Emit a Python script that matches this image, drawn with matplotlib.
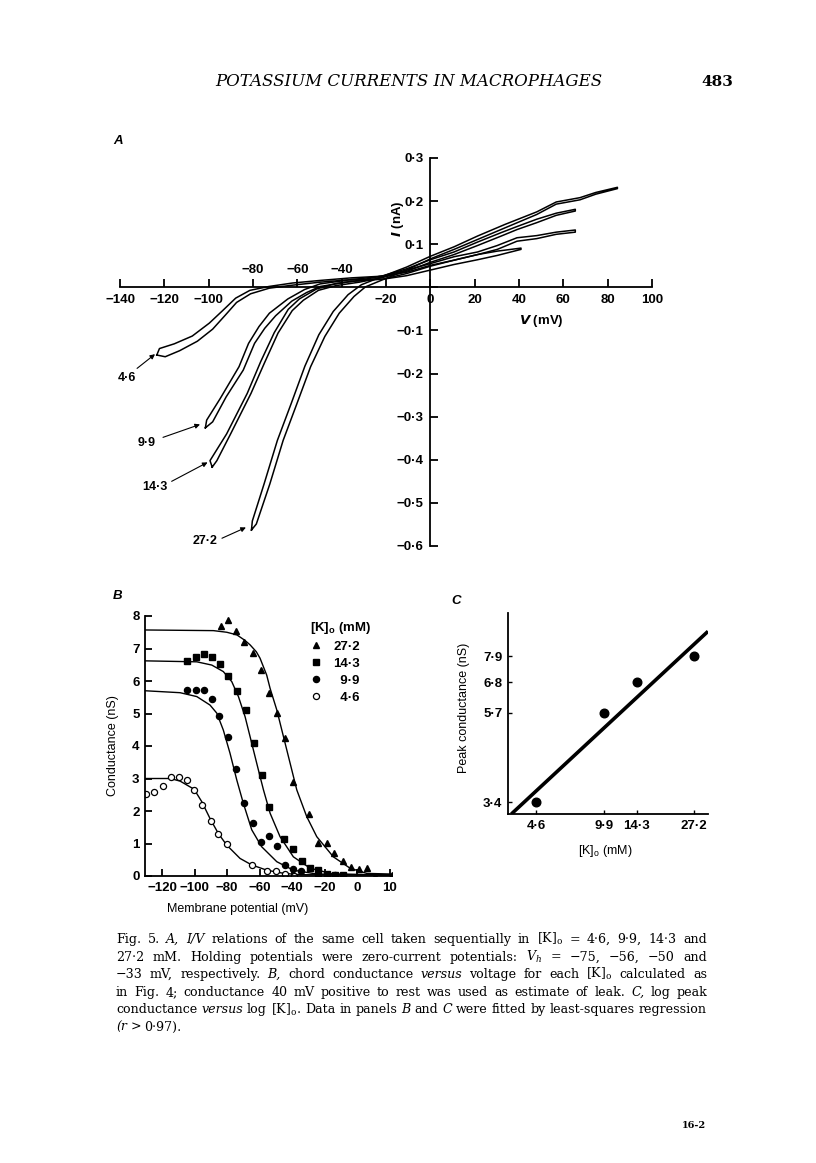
import numpy as np
import matplotlib
matplotlib.use("Agg")
import matplotlib.pyplot as plt

plt.rcParams['font.family'] = ['Liberation Sans', 'DejaVu Sans']
plt.rcParams['font.weight'] = 'bold'
plt.rcParams['axes.linewidth'] = 1.3

# ---- panel A: I/V ramps, outward and return trace of each loop ----
a46_v_out = [-123.4, -119.6, -113.1, -105.1, -98.2, -92.4, -87.4, -81.1, -72.7, -62.2, -49.7, -35.5, -21.3, -10.7, 0, 10.7, 21.3, 30.2, 40.9]
a46_i_out = [-0.157, -0.161, -0.147, -0.125, -0.097, -0.064, -0.035, -0.015, -0.002, 0.005, 0.012, 0.018, 0.019, 0.027, 0.040, 0.053, 0.064, 0.074, 0.088]
a46_v_ret = [40.9, 30.2, 21.3, 10.7, 0, -10.7, -21.3, -35.5, -49.7, -62.2, -72.8, -81.4, -87.8, -93.7, -99.7, -107.4, -115.5, -122.2, -123.4]
a46_i_ret = [0.091, 0.084, 0.076, 0.063, 0.051, 0.035, 0.026, 0.022, 0.016, 0.010, 0.002, -0.007, -0.025, -0.054, -0.083, -0.113, -0.131, -0.142, -0.157]

a99_v_out = [-101.5, -98.2, -92.1, -84.4, -79.3, -74.7, -69.8, -62.5, -55.8, -49.7, -35.5, -21.3, -10.7, 0, 10.7, 21.3, 30.2, 39.1, 48.0, 56.8, 65.4]
a99_i_out = [-0.326, -0.312, -0.254, -0.192, -0.130, -0.095, -0.066, -0.032, -0.012, 0.002, 0.014, 0.019, 0.032, 0.049, 0.063, 0.076, 0.088, 0.107, 0.113, 0.123, 0.128]
a99_v_ret = [65.4, 56.8, 48.0, 39.1, 30.2, 21.3, 10.7, 0, -10.7, -21.3, -35.5, -49.7, -56.7, -64.3, -72.6, -77.3, -82.0, -86.3, -94.8, -100.9, -101.5]
a99_i_ret = [0.133, 0.128, 0.120, 0.115, 0.097, 0.082, 0.071, 0.055, 0.040, 0.026, 0.018, 0.008, -0.005, -0.027, -0.060, -0.091, -0.130, -0.184, -0.258, -0.308, -0.326]

a143_v_out = [-98.4, -96.3, -90.1, -80.9, -74.8, -68.7, -62.3, -57.3, -50.5, -42.6, -32.0, -21.3, -10.7, 0, 10.7, 21.3, 32.0, 39.1, 48.0, 56.8, 65.4]
a143_i_out = [-0.417, -0.402, -0.340, -0.246, -0.175, -0.106, -0.054, -0.030, -0.007, 0.004, 0.012, 0.023, 0.037, 0.058, 0.076, 0.097, 0.119, 0.134, 0.150, 0.167, 0.177]
a143_v_ret = [65.4, 56.8, 48.0, 39.1, 32.0, 21.3, 10.7, 0, -10.7, -21.3, -32.0, -42.6, -51.4, -59.1, -64.1, -70.4, -76.5, -82.6, -91.9, -99.4, -98.4]
a143_i_ret = [0.181, 0.172, 0.158, 0.141, 0.127, 0.105, 0.082, 0.064, 0.043, 0.027, 0.016, 0.009, -0.004, -0.027, -0.051, -0.105, -0.172, -0.246, -0.340, -0.402, -0.417]

a272_v_out = [-80.7, -78.5, -72.4, -66.4, -60.2, -54.0, -47.6, -41.1, -34.4, -29.3, -21.3, -10.7, 0, 10.7, 21.3, 33.7, 48.0, 56.8, 67.5, 74.6, 84.4]
a272_i_out = [-0.563, -0.549, -0.456, -0.355, -0.270, -0.184, -0.114, -0.060, -0.021, 0.001, 0.018, 0.040, 0.066, 0.088, 0.111, 0.138, 0.169, 0.193, 0.203, 0.216, 0.229]
a272_v_ret = [84.4, 74.6, 67.5, 56.8, 48.0, 33.7, 21.3, 10.7, 0, -10.7, -21.3, -31.1, -37.1, -43.8, -50.3, -56.6, -62.8, -69.0, -75.0, -80.3, -80.7]
a272_i_ret = [0.232, 0.220, 0.208, 0.198, 0.175, 0.146, 0.119, 0.094, 0.072, 0.047, 0.026, 0.006, -0.017, -0.056, -0.110, -0.183, -0.270, -0.355, -0.456, -0.542, -0.563]

a_labels = ['4\u00b76', '9\u00b79', '14\u00b73', '27\u00b72']

# ---- panel B: chord conductance (nS) vs membrane potential (mV) ----
b272_v = [-83.9, -79.2, -74.5, -69.5, -64.2, -59.3, -54.2, -49.0, -44.1, -39.2, -29.4, -23.8, -18.3, -14.2, -8.8, -3.9, 1.4, 6.3, 11.1, 21.4]
b272_g = [7.69, 7.88, 7.55, 7.21, 6.87, 6.34, 5.62, 5.03, 4.24, 2.90, 1.90, 1.01, 1.01, 0.72, 0.46, 0.29, 0.21, 0.24, 0.0, 0.03]
b143_v = [-104.4, -99.3, -94.2, -89.2, -84.3, -79.2, -73.7, -68.5, -63.4, -58.6, -54.0, -44.7, -39.6, -34.0, -28.9, -23.8, -18.6, -13.5, -8.4]
b143_g = [6.62, 6.73, 6.83, 6.73, 6.52, 6.15, 5.70, 5.11, 4.10, 3.11, 2.13, 1.14, 0.82, 0.46, 0.26, 0.18, 0.05, 0.03, 0.03]
b99_v = [-104.4, -99.3, -94.2, -89.2, -84.7, -79.2, -74.5, -69.5, -64.2, -59.3, -54.2, -49.0, -44.1, -39.2, -34.3, -23.8, -18.6, -13.5]
b99_g = [5.72, 5.72, 5.72, 5.44, 4.93, 4.27, 3.29, 2.24, 1.62, 1.06, 1.23, 0.92, 0.34, 0.21, 0.16, 0.03, 0.03, 0.03]
b46_v = [-130.0, -124.7, -119.6, -114.6, -109.5, -104.4, -100.3, -95.6, -90.0, -85.4, -80.2, -64.8, -55.2, -49.8, -44.3, -38.8]
b46_g = [2.51, 2.58, 2.77, 3.06, 3.06, 2.95, 2.65, 2.18, 1.70, 1.29, 0.98, 0.34, 0.16, 0.16, 0.05, 0.0]

# fitted curves
f272_v = [-130.5, -88.4, -80.2, -74.0, -69.0, -65.8, -62.0, -59.7, -55.6, -53.5, -49.4, -45.3, -41.2, -37.1, -31.0, -24.8, -14.6, -4.3, 6.0, 21.4]
f272_g = [7.57, 7.55, 7.50, 7.42, 7.25, 7.11, 6.90, 6.70, 6.18, 5.77, 5.11, 4.29, 3.47, 2.65, 1.83, 1.21, 0.59, 0.24, 0.08, 0.06]
f143_v = [-130.5, -98.6, -89.4, -82.3, -77.1, -73.0, -68.9, -64.8, -60.7, -57.6, -53.5, -47.4, -39.2, -28.9, -14.6, 21.4]
f143_g = [6.62, 6.59, 6.49, 6.29, 5.98, 5.52, 4.90, 4.08, 3.26, 2.65, 1.93, 1.21, 0.59, 0.24, 0.06, 0.03]
f99_v = [-130.5, -108.9, -98.6, -90.5, -86.3, -82.3, -78.2, -74.0, -70.0, -64.8, -58.7, -49.4, -39.2, -24.8, 21.4]
f99_g = [5.70, 5.64, 5.52, 5.26, 5.01, 4.49, 3.78, 2.95, 2.24, 1.42, 0.90, 0.44, 0.18, 0.06, 0.03]
f46_v = [-130.5, -115.0, -108.9, -100.3, -95.6, -90.5, -85.4, -80.2, -72.0, -64.8, -55.6, -45.0, -35.0, 21.4]
f46_g = [3.00, 3.00, 2.92, 2.67, 2.29, 1.77, 1.31, 0.95, 0.54, 0.34, 0.18, 0.08, 0.04, 0.03]

b_xticks = [-120, -100, -80, -60, -40, -20, 0, 20]
b_xticklabels = ['\u2212120', '\u2212100', '\u221280', '\u221260', '\u221240', '\u221220', '0', '10']

# ---- panel C: log peak conductance vs log [K]o ----
k_conc = [4.6, 9.9, 14.3, 27.2]
peak_g = [3.4, 5.7, 6.8, 7.9]
fit_k = [3.47, 32.0]
fit_g = [3.18, 9.13]

W, H = 816, 1163
fig = plt.figure(figsize=(W / 100, H / 100), dpi=100)


def rect(x0, y0, x1, y1):
    return [x0 / W, 1 - y1 / H, (x1 - x0) / W, (y1 - y0) / H]


def dot(s):
    return s.replace('-', '\u2212').replace('.', '\u00b7')


# ================= A =================
axA = fig.add_axes(rect(120, 158, 652, 546))
loops = [(a46_v_out + a46_v_ret, a46_i_out + a46_i_ret),
         (a99_v_out + a99_v_ret, a99_i_out + a99_i_ret),
         (a143_v_out + a143_v_ret, a143_i_out + a143_i_ret),
         (a272_v_out + a272_v_ret, a272_i_out + a272_i_ret)]
for v, i in loops:
    axA.plot(v, i, color='black', lw=1.1, solid_joinstyle='round')

axA.set_xlim(-140, 100)
axA.set_ylim(-0.6, 0.3)
axA.spines['left'].set_position(('data', 0))
axA.spines['bottom'].set_position(('data', 0))
axA.spines['top'].set_visible(False)
axA.spines['right'].set_visible(False)
xt = list(range(-140, 101, 20))
axA.set_xticks(xt)
axA.set_xticklabels(['' if v in (-80, -60, -40) else dot(str(v)) for v in xt])
yt = [-0.6, -0.5, -0.4, -0.3, -0.2, -0.1, 0, 0.1, 0.2, 0.3]
axA.set_yticks(yt)
axA.set_yticklabels(['' if v == 0 else dot('%.1f' % v) for v in yt])
axA.tick_params(direction='in', length=6, width=1.3, labelsize=9.5, pad=5)
for v in (-80, -60, -40):
    axA.text(v, 0.04, dot(str(v)), ha='center', va='center', fontsize=9.5)
axA.text(-14.5, 0.16, '$\\it{I}$ (nA)', rotation=90, ha='center', va='center', fontsize=9.5)
axA.text(50, -0.079, '$\\it{V}$ (mV)', ha='center', va='center', fontsize=9.5)

# arrows to the hyperpolarised end of each ramp
arrow_tail = [(-132.3, -0.188), (-120.6, -0.348), (-116.7, -0.450), (-94.0, -0.582)]
arrow_head = [(-124.2, -0.155), (-103.9, -0.318), (-100.5, -0.406), (-83.2, -0.557)]
label_pos = [(-136.8, -0.211), (-127.8, -0.360), (-124.2, -0.464), (-101.7, -0.589)]
for lab, t, h, p in zip(a_labels, arrow_tail, arrow_head, label_pos):
    axA.annotate('', xy=h, xytext=t,
                 arrowprops=dict(arrowstyle='-|>', lw=0.8, color='black', mutation_scale=7,
                                 shrinkA=0, shrinkB=0), annotation_clip=False)
    axA.text(p[0], p[1], lab, ha='center', va='center', fontsize=9, clip_on=False)

# ================= B =================
axB = fig.add_axes(rect(145, 616, 392, 876))
for fv, fg in [(f272_v, f272_g), (f143_v, f143_g), (f99_v, f99_g), (f46_v, f46_g)]:
    axB.plot(fv, fg, color='black', lw=1.0)
h1, = axB.plot(b272_v, b272_g, '^', color='black', ms=4.2, ls='none')
h2, = axB.plot(b143_v, b143_g, 's', color='black', ms=4, ls='none')
h3, = axB.plot(b99_v, b99_g, 'o', color='black', ms=4.4, ls='none')
h4, = axB.plot(b46_v, b46_g, 'o', mfc='white', mec='black', mew=0.9, ms=4.4, ls='none')
axB.set_xlim(-130.5, 21.5)
axB.set_ylim(0, 8)
axB.spines['top'].set_visible(False)
axB.spines['right'].set_visible(False)
axB.set_xticks(b_xticks)
axB.set_xticklabels(b_xticklabels)
axB.set_yticks(range(0, 9))
axB.tick_params(direction='in', length=5, width=1.3, labelsize=9.5, pad=4)
axB.set_ylabel('Conductance (nS)', fontsize=9)
axB.yaxis.set_label_coords(-0.105, 0.5)
axB.set_xlabel('Membrane potential (mV)', fontsize=9)
axB.xaxis.set_label_coords(0.377, -0.105)
leg = axB.legend([h1, h2, h3, h4], ['27\u00b72', '14\u00b73', '  9\u00b79', '  4\u00b76'],
                 title='[K]$_\\mathregular{o}$ (mM)', frameon=False, loc='upper left',
                 bbox_to_anchor=(0.64, 1.01), borderpad=0, handlelength=1.0, handletextpad=0.8,
                 labelspacing=0.36, fontsize=9.5, title_fontsize=9.5, alignment='left')
leg.get_title().set_fontweight('bold')

# ================= C =================
axC = fig.add_axes(rect(508, 613, 708, 814))
axC.plot(fit_k, fit_g, color='black', lw=2.6, solid_capstyle='butt')
axC.plot(k_conc, peak_g, 'o', color='black', ms=6.2, ls='none')
axC.set_xscale('log')
axC.set_yscale('log')
axC.set_xlim(3.34, 32.0)
axC.set_ylim(3.18, 10.15)
axC.spines['top'].set_visible(False)
axC.spines['right'].set_visible(False)
axC.set_xticks(k_conc)
axC.set_xticklabels([dot(str(k)) for k in k_conc])
axC.set_yticks(peak_g)
axC.set_yticklabels([dot(str(g)) for g in peak_g])
axC.minorticks_off()
axC.tick_params(direction='in', length=3, width=1.0, labelsize=9.5, pad=4)
axC.set_ylabel('Peak conductance (nS)', fontsize=9)
axC.yaxis.set_label_coords(-0.19, 0.53)
axC.set_xlabel('[K]$_\\mathregular{o}$ (mM)', fontsize=9)
axC.xaxis.set_label_coords(0.485, -0.145)

# panel letters
for s, x, y in [('A', 118, 141), ('B', 118, 596), ('C', 456, 601)]:
    fig.text(x / W, 1 - y / H, s, style='italic', fontsize=9.5, ha='center', va='center')

# ================= page text =================
serif = 'DejaVu Serif'
fig.text(409 / W, 1 - 82 / H, 'POTASSIUM CURRENTS IN MACROPHAGES', family=serif, style='italic',
         fontweight='normal', fontsize=12, ha='center', va='center')
fig.text(733 / W, 1 - 82 / H, '483', family=serif, fontweight='bold', fontsize=11, ha='right', va='center')
fig.text(706 / W, 1 - 1125 / H, '16-2', family=serif, fontweight='bold', fontsize=7, ha='right', va='center')

KO = '[K]$_\\mathregular{o}$'
caption = [
    ['Fig.', '5.', '*A,', '*I/V', 'relations', 'of', 'the', 'same', 'cell', 'taken', 'sequentially',
     'in', KO, '=', '4\u00b76,', '9\u00b79,', '14\u00b73', 'and'],
    ['27\u00b72', 'mM.', 'Holding', 'potentials', 'were', 'zero-current', 'potentials:',
     '*V$_\\mathregular{h}$', '=', '\u221275,', '\u221256,', '\u221250', 'and'],
    ['\u221233', 'mV,', 'respectively.', '*B,', 'chord', 'conductance', '*versus', 'voltage', 'for',
     'each', KO, 'calculated', 'as'],
    ['in', 'Fig.', '4;', 'conductance', '40', 'mV', 'positive', 'to', 'rest', 'was', 'used', 'as',
     'estimate', 'of', 'leak.', '*C,', 'log', 'peak'],
    ['conductance', '*versus', 'log', KO + '.', 'Data', 'in', 'panels', '*B', 'and', '*C', 'were',
     'fitted', 'by', 'least-squares', 'regression'],
    ['(*r', '>', '0\u00b797).'],
]
renderer = fig.canvas.get_renderer()
x_left, x_right = 116 / W, 707 / W
for n, words in enumerate(caption):
    y = 1 - (943 + 17.6 * n) / H
    texts = []
    for w in words:
        if w.startswith('(*'):
            w, st = '(' + w[2:], 'italic'
        elif w.startswith('*'):
            w, st = w[1:], 'italic'
        else:
            st = 'normal'
        texts.append(fig.text(0, y, w, family=serif, style=st, fontweight='normal',
                              fontsize=9.1, va='baseline'))
    widths = [t.get_window_extent(renderer).width / fig.bbox.width for t in texts]
    if n < len(caption) - 1:
        gap = (x_right - x_left - sum(widths)) / (len(texts) - 1)
    else:
        gap = 3.5 / W
    x = x_left
    for t, wd in zip(texts, widths):
        t.set_x(x)
        x += wd + gap

fig.savefig('out.png', dpi=100)
